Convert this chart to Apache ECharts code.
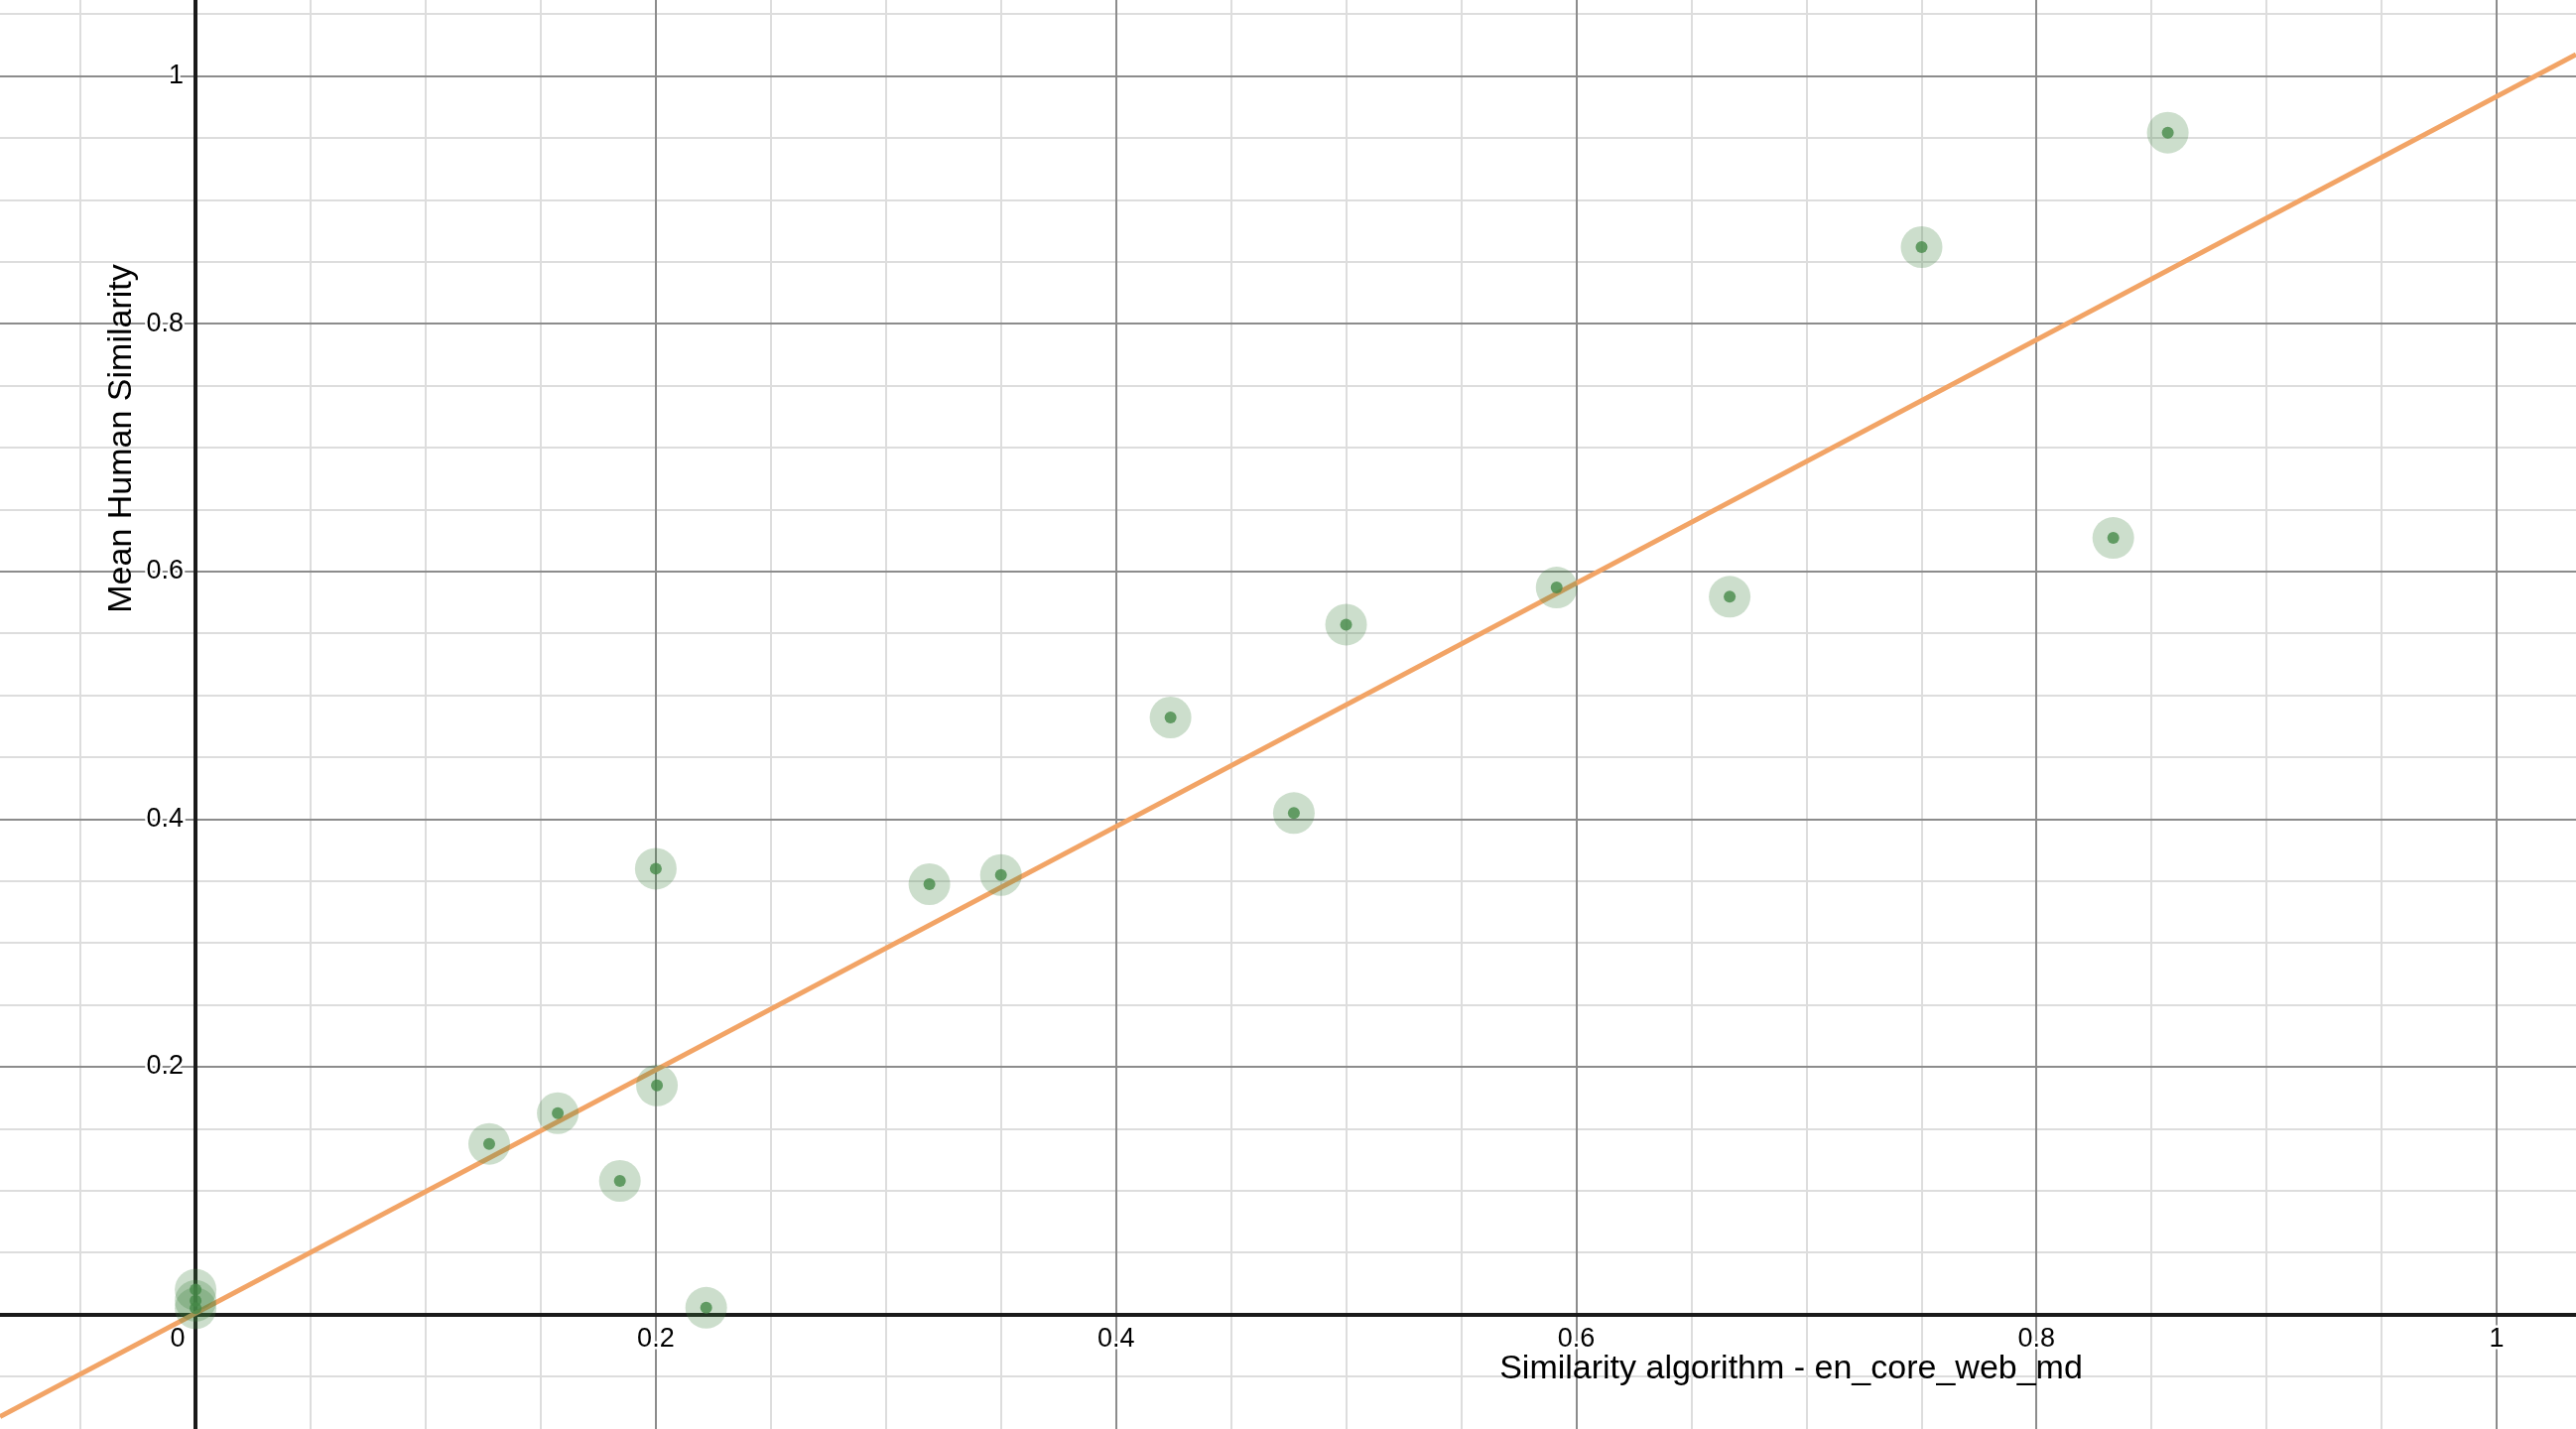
<!DOCTYPE html>
<html>
<head>
<meta charset="utf-8">
<style>
html,body{margin:0;padding:0;background:#fff;}
#chart{width:2596px;height:1440px;}
</style>
<script src="https://cdn.jsdelivr.net/npm/echarts@6/dist/echarts.min.js"></script>
</head>
<body>
<div id="chart"></div>
<script>
// Data
var algoSim  = [0, 0, 0, 0.2219, 0.1276, 0.1574, 0.1844, 0.2005, 0.2000, 0.3189, 0.3500, 0.4237, 0.4773, 0.5000, 0.5915, 0.6667, 0.7501, 0.8334, 0.8571];
var humanSim = [0.020, 0.011, 0.005, 0.0054, 0.1377, 0.1625, 0.1078, 0.1849, 0.3599, 0.3474, 0.3548, 0.4820, 0.4048, 0.5570, 0.5869, 0.5795, 0.8618, 0.6270, 0.9542];
// Trend line endpoints (data space)
var trendX = [-0.085, 1.0345];
var trendY = [-0.0825, 1.0173];
// Axis view window
var xRange = [-0.085, 1.0345];
var yRange = [-0.0925, 1.0613];
var xTitle = 'Similarity algorithm - en_core_web_md';
var yTitle = 'Mean Human Similarity';

var points = algoSim.map(function (x, i) { return [x, humanSim[i]]; });
var trend = trendX.map(function (x, i) { return [x, trendY[i]]; });

var W = 2596, H = 1440;
// distance (px) from the grid edge to the zero line, derived from the axis ranges
var xZeroOffset = -((0 - yRange[0]) / (yRange[1] - yRange[0])) * H;
var yZeroOffset = -((0 - xRange[0]) / (xRange[1] - xRange[0])) * W;

var FONT = '"Liberation Sans", Arial, sans-serif';
function fmt(v) { return String(Math.round(v * 10) / 10); }

function gridAxis(range, split, color, z) {
  return {
    type: 'value', min: range[0], max: range[1], splitNumber: split, z: z,
    axisLine: { show: false }, axisTick: { show: false }, axisLabel: { show: false },
    splitLine: { show: true, showMinLine: false, showMaxLine: false, lineStyle: { color: color, width: 2 } }
  };
}

var chart = echarts.init(document.getElementById('chart'), null, { renderer: 'canvas' });
chart.setOption({
  animation: false,
  backgroundColor: '#ffffff',
  grid: { left: 0, right: 0, top: 0, bottom: 0, containLabel: false, outerBoundsMode: 'none' },
  xAxis: [
    {
      type: 'value', min: xRange[0], max: xRange[1], splitNumber: 5, z: 3,
      position: 'bottom', offset: xZeroOffset,
      axisLine: { show: true, onZero: false, lineStyle: { color: '#1a1a1a', width: 4 } },
      axisTick: { show: false },
      splitLine: { show: false },
      axisLabel: {
        show: true, showMinLabel: false, showMaxLabel: false, margin: 11,
        fontFamily: FONT, fontSize: 27, color: '#000',
        textBorderColor: '#fff', textBorderWidth: 5,
        formatter: function (v) { return Math.abs(v) < 1e-9 ? '{o|0}' : fmt(v); },
        rich: { o: { fontFamily: FONT, fontSize: 27, color: '#000', padding: [0, 36, 0, 0], textBorderColor: '#fff', textBorderWidth: 5 } }
      }
    },
    gridAxis(xRange, 5, '#8c8c8c', 1),
    gridAxis(xRange, 22, '#dddddd', 0)
  ],
  yAxis: [
    {
      type: 'value', min: yRange[0], max: yRange[1], splitNumber: 5, z: 3,
      position: 'left', offset: yZeroOffset,
      axisLine: { show: true, onZero: false, lineStyle: { color: '#1a1a1a', width: 4 } },
      axisTick: { show: false },
      splitLine: { show: false },
      axisLabel: {
        show: true, showMinLabel: false, showMaxLabel: false, margin: 12,
        fontFamily: FONT, fontSize: 27, color: '#000',
        textBorderColor: '#fff', textBorderWidth: 5,
        formatter: function (v) { return Math.abs(v) < 1e-9 ? '' : fmt(v); }
      }
    },
    gridAxis(yRange, 5, '#8c8c8c', 1),
    gridAxis(yRange, 22, '#dddddd', 0)
  ],
  series: [
    {
      type: 'line', data: trend, xAxisIndex: 0, yAxisIndex: 0, z: 4,
      symbol: 'none', silent: true,
      lineStyle: { color: '#f2a466', width: 5 }
    },
    {
      type: 'scatter', data: points, xAxisIndex: 0, yAxisIndex: 0, z: 5,
      symbolSize: 42, silent: true,
      itemStyle: { color: 'rgba(60,130,60,0.33)' }
    },
    {
      type: 'scatter', data: points, xAxisIndex: 0, yAxisIndex: 0, z: 6,
      symbolSize: 12, silent: true,
      itemStyle: { color: '#468a49' }
    }
  ],
  graphic: [
    {
      type: 'text', x: 1805, y: 1380, z: 10,
      style: { text: xTitle, font: '34px ' + FONT, fill: '#000', align: 'center', verticalAlign: 'middle' }
    },
    {
      type: 'text', x: 123, y: 442, rotation: Math.PI / 2, z: 10,
      style: { text: yTitle, font: '34px ' + FONT, fill: '#000', align: 'center', verticalAlign: 'middle' }
    }
  ]
});
</script>
</body>
</html>
